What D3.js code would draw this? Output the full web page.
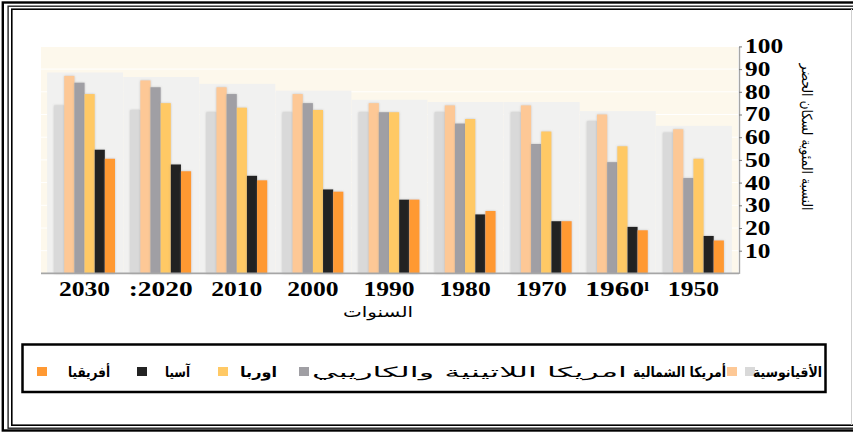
<!DOCTYPE html>
<html>
<head>
<meta charset="utf-8">
<script src="https://cdn.jsdelivr.net/npm/d3@7"></script>
<style>
  body { margin: 0; background: #fff; }
  svg { display: block; }
</style>
</head>
<body>
<svg id="chart"></svg>
<script>
// data (urban population %)
const years = [2030, 2020, 2010, 2000, 1990, 1980, 1970, 1960, 1950];
const yearLabels = ['2030', ':2020', '2010', '2000', '1990', '1980', '1970', '1960ˡ', '1950'];
const seriesNames = ['الأقيانوسية', 'أمريكا الشمالية', 'امريكا اللاتينية والكاريبي', 'اوربا', 'آسيا', 'أفريقيا'];
const oceania      = [74, 72, 71, 71, 71, 71, 71, 67, 62];
const northAmerica = [87, 85, 82, 79, 75, 74, 74, 70, 63.5];
const latinAmerica = [84, 82, 79, 75, 71, 66, 57, 49, 42];
const europe       = [79, 75, 73, 72, 71, 68, 62.5, 56, 50.5];
const asia         = [54.5, 48, 43, 37, 32.5, 26, 23, 20.5, 16.5];
const africa       = [50.5, 45, 41, 36, 32.5, 27.5, 23, 19, 14.5];
const yTicks = [10, 20, 30, 40, 50, 60, 70, 80, 90, 100];

const series = [oceania, northAmerica, latinAmerica, europe, asia, africa];
const colors = ['#d9d9d9', '#fdc896', '#a09fa4', '#ffc965', '#232323', '#ff9933'];

const W = 853, H = 432;
const svg = d3.select('#chart').attr('width', W).attr('height', H);

const defs = svg.append('defs');
const glow = defs.append('filter').attr('id', 'glow')
    .attr('x', '-30%').attr('y', '-10%').attr('width', '160%').attr('height', '120%');
glow.append('feDropShadow').attr('dx', 0).attr('dy', 0)
    .attr('stdDeviation', 1.3).attr('flood-color', '#8a8a8a').attr('flood-opacity', 0.45);

// double frame (right edge is cut off in the original)
svg.append('rect').attr('x', 2.8).attr('y', 2.5).attr('width', 900).attr('height', 428)
    .attr('fill', 'none').attr('stroke', '#000').attr('stroke-width', 2.4);
svg.append('rect').attr('x', 8.1).attr('y', 6.2).attr('width', 900).attr('height', 422)
    .attr('fill', 'none').attr('stroke', '#222').attr('stroke-width', 1.4);
svg.append('rect').attr('x', 11.8).attr('y', 9.2).attr('width', 900).attr('height', 416)
    .attr('fill', 'none').attr('stroke', '#000').attr('stroke-width', 1.6);
svg.append('line').attr('x1', 851.5).attr('x2', 851.5).attr('y1', 9).attr('y2', 425)
    .attr('stroke', '#cfcfcf').attr('stroke-width', 1);

// scales
const x = d3.scaleBand().domain(years).range([46.5, 731.5]).paddingInner(0.2).paddingOuter(0.1);
const xs = d3.scaleBand().domain(d3.range(series.length)).range([0, x.bandwidth()]);
const y = d3.scaleLinear().domain([0, 100]).range([273.4, 46.4]);

// plot background
svg.append('rect').attr('x', 41).attr('y', 47).attr('width', 697).attr('height', 226.4)
    .attr('fill', '#fdf8ec');
svg.append('g').selectAll('line').data(yTicks).enter().append('line')
    .attr('x1', 41).attr('x2', 738)
    .attr('y1', d => y(d)).attr('y2', d => y(d))
    .attr('stroke', '#ffffff').attr('stroke-width', 1);

// faint panel behind each group
svg.append('g').selectAll('rect').data(years).enter().append('rect')
    .attr('x', d => x(d) - 7)
    .attr('width', x.bandwidth() + 15)
    .attr('y', (d, i) => y(d3.max(series, s => s[i]) + 1.5))
    .attr('height', (d, i) => y(0) - y(d3.max(series, s => s[i]) + 1.5))
    .attr('fill', '#f1f1f0');

// bars
const groups = svg.append('g').selectAll('g').data(years).enter().append('g')
    .attr('transform', d => `translate(${x(d)},0)`);
groups.selectAll('rect')
    .data((d, i) => series.map((s, k) => ({k: k, v: s[i]})))
    .enter().append('rect')
    .attr('x', d => xs(d.k))
    .attr('width', xs.bandwidth())
    .attr('y', d => y(d.v))
    .attr('height', d => y(0) - y(d.v))
    .attr('fill', d => colors[d.k])
    .attr('filter', 'url(#glow)');

// baseline
svg.append('line').attr('x1', 41).attr('x2', 739).attr('y1', y(0)).attr('y2', y(0))
    .attr('stroke', '#a6a6a6').attr('stroke-width', 1.6);

// y axis on the right
const yAxis = svg.append('g').attr('transform', 'translate(739,0)')
    .call(d3.axisRight(y).tickValues(yTicks).tickSize(3).tickSizeOuter(0).tickPadding(3));
yAxis.select('.domain').attr('stroke', '#a6a6a6').attr('stroke-width', 1.4);
yAxis.selectAll('.tick line').attr('stroke', '#777');
yAxis.selectAll('text')
    .attr('font-family', '"Liberation Serif", "Times New Roman", serif').attr('font-weight', 'bold')
    .attr('font-size', 20).attr('fill', '#000')
    .attr('textLength', d => String(d).length * 12.7)
    .attr('lengthAdjust', 'spacingAndGlyphs');

// x axis labels
const xAxis = svg.append('g').attr('transform', `translate(0,${y(0)})`)
    .call(d3.axisBottom(x).tickSize(0).tickPadding(8).tickFormat((d, i) => yearLabels[i]));
xAxis.select('.domain').remove();
xAxis.selectAll('text')
    .attr('font-family', '"Liberation Serif", "Times New Roman", serif').attr('font-weight', 'bold')
    .attr('font-size', 20).attr('fill', '#000')
    .attr('textLength', (d, i) => yearLabels[i].length * 12.8)
    .attr('lengthAdjust', 'spacingAndGlyphs');

// axis titles
svg.append('text').attr('x', 378).attr('y', 317)
    .attr('text-anchor', 'middle')
    .attr('font-family', '"DejaVu Sans", sans-serif').attr('font-size', 15)
    .attr('fill', '#000')
    .attr('textLength', 70).attr('lengthAdjust', 'spacingAndGlyphs')
    .text('السنوات');

svg.append('text')
    .attr('transform', 'translate(802,137) rotate(90)')
    .attr('text-anchor', 'middle')
    .attr('font-family', '"DejaVu Sans", sans-serif').attr('font-size', 14)
    .attr('fill', '#000')
    .attr('textLength', 147).attr('lengthAdjust', 'spacingAndGlyphs')
    .text('النسبة المئوية لسكان الحضر');

// legend
const legendSwatchX = [745, 727, 299, 218, 137, 37];
const legendTextX = [753, 633, 312, 240, 165, 68];
const legendTextW = [69, 93, 315, 37, 25, 42];
svg.append('rect').attr('x', 22.5).attr('y', 344.5).attr('width', 803).attr('height', 47.5)
    .attr('fill', '#fff').attr('stroke', '#000').attr('stroke-width', 2.5);
const items = svg.append('g').selectAll('g').data(seriesNames).enter().append('g');
items.append('rect')
    .attr('x', (d, i) => legendSwatchX[i]).attr('y', 367)
    .attr('width', 10).attr('height', 9)
    .attr('fill', (d, i) => colors[i]);
items.append('text')
    .attr('x', (d, i) => legendTextX[i]).attr('y', 377)
    .attr('font-family', '"DejaVu Sans", sans-serif').attr('font-size', 14)
    .attr('font-weight', (d, i) => i === 2 ? 'normal' : 'bold').attr('fill', '#000')
    .attr('textLength', (d, i) => legendTextW[i])
    .attr('lengthAdjust', 'spacingAndGlyphs')
    .text(d => d);
</script>
</body>
</html>
